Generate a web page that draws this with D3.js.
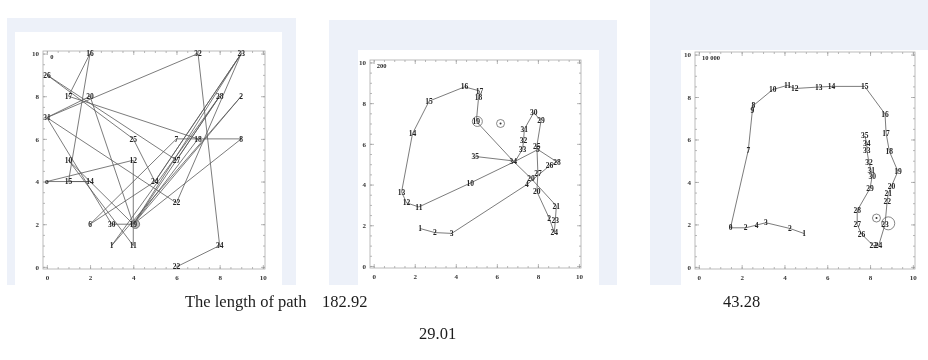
<!DOCTYPE html>
<html>
<head>
<meta charset="utf-8">
<script src="https://cdn.jsdelivr.net/npm/d3@7"></script>
<style>
  body { margin: 0; background: #fff; }
  svg { will-change: transform; }
  text { font-family: "Liberation Serif", "DejaVu Serif", serif; opacity: 0.99; }
</style>
</head>
<body>
<svg id="chart" width="928" height="360"></svg>
<script>
// nodes of the path in visiting order: [label, x, y]  ("" = label hidden under another one)
var path0 = [
  ["", 8, 8], ["1", 3, 1], ["2", 9, 8], ["", 4, 2], ["", 9, 10], ["", 5, 4],
  ["6", 2, 2], ["7", 6, 6], ["8", 9, 6], ["", 4, 2], ["10", 1, 5], ["11", 4, 1],
  ["12", 4, 5], ["o", 0, 4], ["14", 2, 4], ["15", 1, 4], ["16", 2, 10], ["17", 1, 8],
  ["18", 7, 6], ["19", 4, 2], ["20", 2, 8], ["", 0, 7], ["22", 6, 3], ["23", 9, 10],
  ["24", 5, 4], ["25", 4, 6], ["26", 0, 9], ["27", 6, 5], ["28", 8, 8], ["", 4, 2],
  ["30", 3, 2], ["31", 0, 7], ["32", 7, 10], ["", 8, 1], ["34", 8, 1], ["22", 6, 0]
];

var path200 = [
  ["1", 2.26, 1.84], ["2", 2.98, 1.64], ["3", 3.8, 1.6], ["4", 7.46, 4.0], ["", 8.3, 4.7],
  ["26", 8.56, 4.92], ["28", 8.93, 5.11], ["5", 8.0, 5.72], ["", 6.85, 5.12], ["10", 4.7, 4.07],
  ["11", 2.2, 2.9], ["12", 1.6, 3.1], ["13", 1.36, 3.64], ["14", 1.89, 6.5], ["15", 2.7, 8.1],
  ["16", 4.43, 8.8], ["17", 5.16, 8.6], ["18", 5.11, 8.28], ["19", 5.0, 7.1], ["34", 6.8, 5.15],
  ["20", 7.67, 4.3], ["21", 8.9, 2.95], ["23", 8.85, 2.25], ["24", 8.8, 1.64], ["2", 8.55, 2.35],
  ["20", 7.95, 3.66], ["27", 8.0, 4.56], ["25", 7.95, 5.9], ["29", 8.15, 7.13], ["30", 7.8, 7.54],
  ["31", 7.34, 6.72], ["32", 7.3, 6.15], ["33", 7.25, 5.74], ["", 6.9, 5.15], ["35", 4.95, 5.38]
];

var path10000 = [
  ["1", 4.92, 1.57], ["2", 4.25, 1.81], ["3", 3.13, 2.08], ["4", 2.7, 1.97], ["2", 2.19, 1.84],
  ["0", 1.48, 1.84], ["7", 2.31, 5.5], ["9", 2.5, 7.35], ["8", 2.55, 7.6], ["10", 3.45, 8.35],
  ["11", 4.14, 8.55], ["12", 4.48, 8.4], ["13", 5.6, 8.47], ["14", 6.2, 8.5], ["15", 7.75, 8.5],
  ["16", 8.7, 7.2], ["17", 8.75, 6.3], ["18", 8.9, 5.45], ["19", 9.3, 4.5], ["20", 9.0, 3.8],
  ["21", 8.85, 3.45], ["22", 8.8, 3.1], ["23", 8.7, 2.0], ["24", 8.4, 1.0], ["22", 8.15, 1.0],
  ["26", 7.6, 1.55], ["27", 7.4, 2.0], ["28", 7.4, 2.65], ["29", 8.0, 3.7], ["30", 8.1, 4.28],
  ["31", 8.05, 4.55], ["32", 7.95, 4.9], ["33", 7.85, 5.5], ["34", 7.85, 5.83], ["35", 7.75, 6.17]
];

// circled points: [x, y, kind]
var marks0 = [[4.1, 2.0, "blob"]];
var marks200 = [[5.05, 7.1, "ring"], [6.18, 7.0, "dot"]];
var marks10000 = [[8.3, 2.3, "dot"], [8.85, 2.05, "big"]];

var iterations = ["0", "200", "10 000"];
var pathLengths = ["182.92", "29.01", "43.28"];
var captionLabel = "The length of path";
var majorTicks = [0, 2, 4, 6, 8, 10];
var minorTicks = d3.range(0, 10.01, 0.5);

var svg = d3.select("#chart");

var panels = [
  { bg: [7, 18, 296, 285], inner: [15, 32, 282, 285], box: [43, 51, 265, 269], nodes: path0, marks: marks0, iter: iterations[0] },
  { bg: [329, 20, 617, 285], inner: [358, 50, 599, 285], box: [370, 60, 581, 268], nodes: path200, marks: marks200, iter: iterations[1] },
  { bg: [650, 0, 928, 285], inner: [681, 50, 928, 285], box: [695, 52, 915, 269], nodes: path10000, marks: marks10000, iter: iterations[2] }
];

var drawPanel = function (p) {
  var g = svg.append("g");

  g.append("rect")
    .attr("x", p.bg[0]).attr("y", p.bg[1])
    .attr("width", p.bg[2] - p.bg[0]).attr("height", p.bg[3] - p.bg[1])
    .attr("fill", "#edf1f9");
  g.append("rect")
    .attr("x", p.inner[0]).attr("y", p.inner[1])
    .attr("width", p.inner[2] - p.inner[0]).attr("height", p.inner[3] - p.inner[1])
    .attr("fill", "#fff");

  var x = d3.scaleLinear().domain([-0.18, 10.1]).range([p.box[0], p.box[2]]);
  var y = d3.scaleLinear().domain([-0.1, 10.12]).range([p.box[3], p.box[1]]);
  var w = p.box[2] - p.box[0], h = p.box[3] - p.box[1];

  // minor ticks on all four sides (inward)
  var minorB = g.append("g").attr("transform", "translate(0," + p.box[3] + ")")
    .call(d3.axisBottom(x).tickValues(minorTicks).tickSize(-2).tickFormat(""));
  var minorT = g.append("g").attr("transform", "translate(0," + p.box[1] + ")")
    .call(d3.axisTop(x).tickValues(minorTicks).tickSize(-2).tickFormat(""));
  var minorL = g.append("g").attr("transform", "translate(" + p.box[0] + ",0)")
    .call(d3.axisLeft(y).tickValues(minorTicks).tickSize(-2).tickFormat(""));
  var minorR = g.append("g").attr("transform", "translate(" + p.box[2] + ",0)")
    .call(d3.axisRight(y).tickValues(minorTicks).tickSize(-2).tickFormat(""));

  // major ticks + labels
  var xAxis = g.append("g").attr("transform", "translate(0," + p.box[3] + ")")
    .call(d3.axisBottom(x).tickValues(majorTicks).tickSize(-4).tickPadding(6));
  var yAxis = g.append("g").attr("transform", "translate(" + p.box[0] + ",0)")
    .call(d3.axisLeft(y).tickValues(majorTicks).tickSize(-4).tickPadding(4));
  var xTop = g.append("g").attr("transform", "translate(0," + p.box[1] + ")")
    .call(d3.axisTop(x).tickValues(majorTicks).tickSize(-4).tickFormat(""));
  var yRight = g.append("g").attr("transform", "translate(" + p.box[2] + ",0)")
    .call(d3.axisRight(y).tickValues(majorTicks).tickSize(-4).tickFormat(""));

  [minorB, minorT, minorL, minorR, xAxis, yAxis, xTop, yRight].forEach(function (a) {
    a.select(".domain").remove();
    a.selectAll("line").attr("stroke", "#999").attr("stroke-width", 0.7);
    a.selectAll("text")
      .attr("font-family", "Liberation Serif, serif")
      .attr("font-size", 7)
      .attr("font-weight", "bold")
      .attr("fill", "#333");
  });

  g.append("rect")
    .attr("x", p.box[0]).attr("y", p.box[1])
    .attr("width", w).attr("height", h)
    .attr("fill", "none")
    .attr("stroke", "#aaa")
    .attr("stroke-width", 0.8);

  // iteration count in the corner
  g.append("text")
    .attr("x", x(0.15)).attr("y", y(9.75))
    .attr("font-size", 6.5)
    .attr("font-weight", "bold")
    .attr("fill", "#222")
    .text(p.iter);

  var valueline = d3.line()
    .x(function (d) { return x(d[1]); })
    .y(function (d) { return y(d[2]); });

  g.append("path")
    .datum(p.nodes)
    .attr("d", valueline)
    .attr("fill", "none")
    .attr("stroke", "#5a5a5a")
    .attr("stroke-width", 0.8);

  p.marks.forEach(function (m) {
    if (m[2] == "blob") {
      g.append("circle").attr("cx", x(m[0])).attr("cy", y(m[1])).attr("r", 4.2)
        .attr("fill", "#888").attr("fill-opacity", 0.55).attr("stroke", "#777");
    } else {
      g.append("circle").attr("cx", x(m[0])).attr("cy", y(m[1]))
        .attr("r", m[2] == "big" ? 6.5 : (m[2] == "ring" ? 5 : 4))
        .attr("fill", "none").attr("stroke", "#555").attr("stroke-width", 0.7);
      if (m[2] == "dot") {
        g.append("circle").attr("cx", x(m[0])).attr("cy", y(m[1])).attr("r", 1)
          .attr("fill", "#333");
      }
    }
  });

  g.selectAll(".label")
    .data(p.nodes.filter(function (d) { return d[0] != ""; }))
    .enter()
    .append("text")
    .attr("class", "label")
    .attr("x", function (d) { return x(d[1]); })
    .attr("y", function (d) { return y(d[2]); })
    .attr("dy", "0.35em")
    .attr("text-anchor", "middle")
    .attr("font-size", 7.5)
    .attr("font-weight", "bold")
    .attr("fill", "#222")
    .text(function (d) { return d[0]; });
};

panels.forEach(drawPanel);

// captions under the panels
var caption = svg.append("g")
  .attr("font-size", 16.5)
  .attr("fill", "#1a1a1a");
caption.append("text").attr("x", 185).attr("y", 307).text(captionLabel);
caption.append("text").attr("x", 322).attr("y", 307).text(pathLengths[0]);
caption.append("text").attr("x", 419).attr("y", 339).text(pathLengths[1]);
caption.append("text").attr("x", 723).attr("y", 307).text(pathLengths[2]);
</script>
</body>
</html>
